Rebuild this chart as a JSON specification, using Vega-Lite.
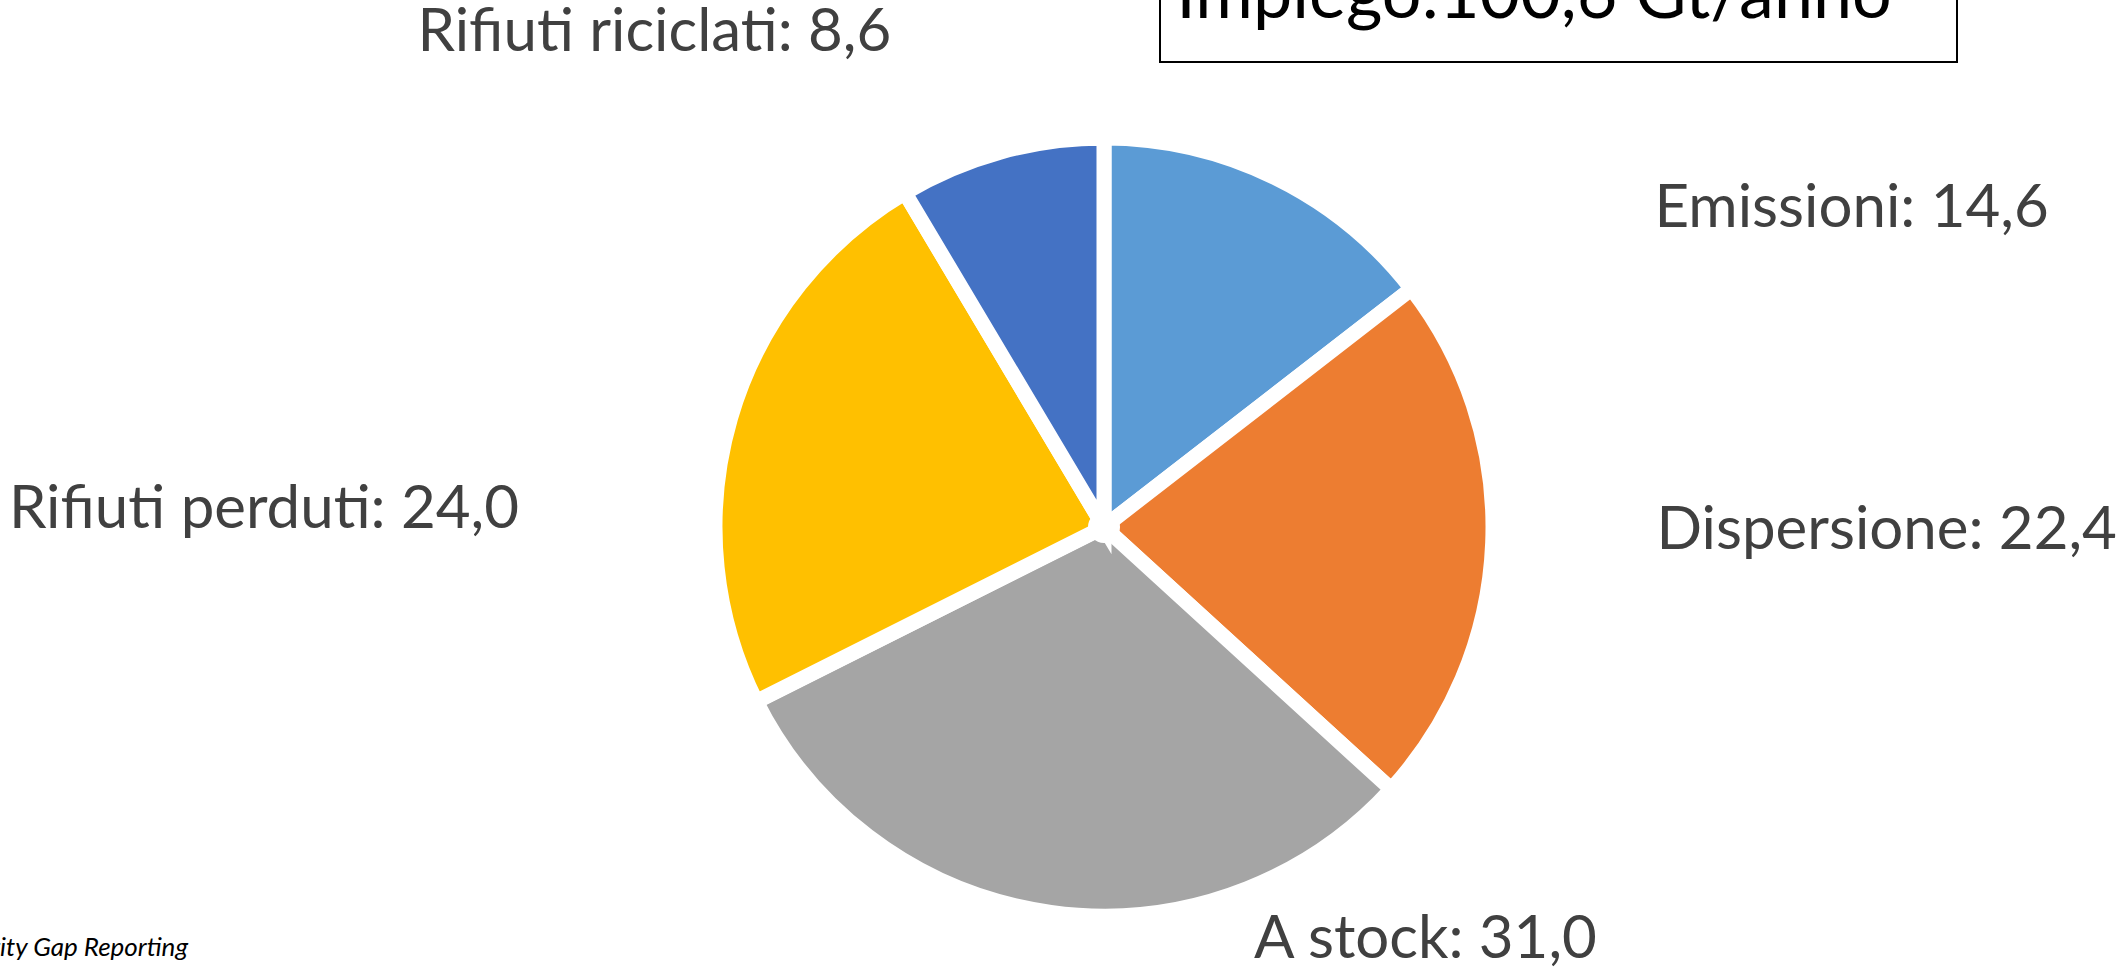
{
  "$schema": "https://vega.github.io/schema/vega-lite/v6.json",
  "width": 2048,
  "height": 880,
  "autosize": {"type": "none"},
  "padding": {"left": 80, "top": 87, "right": 0, "bottom": 0},
  "background": "white",
  "view": {"stroke": null},
  "config": {"text": {"font": "Lato"}},
  "datasets": {
    "flows": [
      {"name": "Emissioni", "value": 14.6, "order": 1, "label": "Emissioni: 14,6"},
      {"name": "Dispersione", "value": 22.4, "order": 2, "label": "Dispersione: 22,4"},
      {"name": "A stock", "value": 31.0, "order": 3, "label": "A stock: 31,0"},
      {"name": "Rifiuti perduti", "value": 24.0, "order": 4, "label": "Rifiuti perduti: 24,0"},
      {"name": "Rifiuti riciclati", "value": 8.6, "order": 5, "label": "Rifiuti riciclati: 8,6"}
    ],
    "notes": [
      {"title": "Impiego:100,6 Gt/anno", "source": "Fonte: Circularity Gap Reporting"}
    ]
  },
  "layer": [
    {
      "data": {"name": "flows"},
      "mark": {"type": "arc", "outerRadius": 389, "stroke": "white", "strokeWidth": 15},
      "encoding": {
        "theta": {"field": "value", "type": "quantitative", "stack": true},
        "order": {"field": "order", "type": "quantitative"},
        "color": {
          "field": "name", "type": "nominal", "legend": null,
          "scale": {
            "domain": ["Emissioni", "Dispersione", "A stock", "Rifiuti perduti", "Rifiuti riciclati"],
            "range": ["#5B9BD5", "#ED7D31", "#A5A5A5", "#FFC000", "#4472C4"]
          }
        }
      }
    },
    {
      "data": {"name": "notes"},
      "mark": {"type": "arc", "theta": 0, "theta2": 6.2832, "outerRadius": 16, "fill": "white"},
      "encoding": {}
    },
    {
      "data": {"name": "flows"},
      "mark": {"type": "text", "radius": 627, "thetaOffset": 0.6158, "align": "left", "baseline": "alphabetic", "fontSize": 60, "fill": "#404040"},
      "encoding": {
        "theta": {"field": "value", "type": "quantitative", "stack": true},
        "order": {"field": "order", "type": "quantitative"},
        "text": {"field": "label"},
        "opacity": {"condition": {"test": "datum.name === 'Emissioni'", "value": 1}, "value": 0}
      }
    },
    {
      "data": {"name": "flows"},
      "mark": {"type": "text", "radius": 553, "thetaOffset": 0, "align": "left", "baseline": "alphabetic", "fontSize": 60, "fill": "#404040"},
      "encoding": {
        "theta": {"field": "value", "type": "quantitative", "stack": true},
        "order": {"field": "order", "type": "quantitative"},
        "text": {"field": "label"},
        "opacity": {"condition": {"test": "datum.name === 'Dispersione'", "value": 1}, "value": 0}
      }
    },
    {
      "data": {"name": "flows"},
      "mark": {"type": "text", "radius": 456, "thetaOffset": -0.4725, "align": "left", "baseline": "alphabetic", "fontSize": 60, "fill": "#404040"},
      "encoding": {
        "theta": {"field": "value", "type": "quantitative", "stack": true},
        "order": {"field": "order", "type": "quantitative"},
        "text": {"field": "label"},
        "opacity": {"condition": {"test": "datum.name === 'A stock'", "value": 1}, "value": 0}
      }
    },
    {
      "data": {"name": "flows"},
      "mark": {"type": "text", "radius": 585, "thetaOffset": -0.2859, "align": "right", "baseline": "alphabetic", "fontSize": 60, "fill": "#404040"},
      "encoding": {
        "theta": {"field": "value", "type": "quantitative", "stack": true},
        "order": {"field": "order", "type": "quantitative"},
        "text": {"field": "label"},
        "opacity": {"condition": {"test": "datum.name === 'Rifiuti perduti'", "value": 1}, "value": 0}
      }
    },
    {
      "data": {"name": "flows"},
      "mark": {"type": "text", "radius": 521, "thetaOffset": -0.152, "align": "right", "baseline": "alphabetic", "fontSize": 60, "fill": "#404040"},
      "encoding": {
        "theta": {"field": "value", "type": "quantitative", "stack": true},
        "order": {"field": "order", "type": "quantitative"},
        "text": {"field": "label"},
        "opacity": {"condition": {"test": "datum.name === 'Rifiuti riciclati'", "value": 1}, "value": 0}
      }
    },
    {
      "data": {"name": "notes"},
      "mark": {"type": "rect", "x": 1080, "x2": 1877, "y": -120, "y2": -25, "fill": "white", "stroke": "black", "strokeWidth": 2},
      "encoding": {}
    },
    {
      "data": {"name": "notes"},
      "mark": {"type": "text", "x": 1454, "y": -69, "align": "center", "baseline": "alphabetic", "fontSize": 70, "fill": "black"},
      "encoding": {"text": {"field": "title"}}
    },
    {
      "data": {"name": "notes"},
      "mark": {"type": "text", "x": 108, "y": 869, "align": "right", "baseline": "alphabetic", "fontSize": 26, "fontStyle": "italic", "fill": "black"},
      "encoding": {"text": {"field": "source"}}
    }
  ]
}
